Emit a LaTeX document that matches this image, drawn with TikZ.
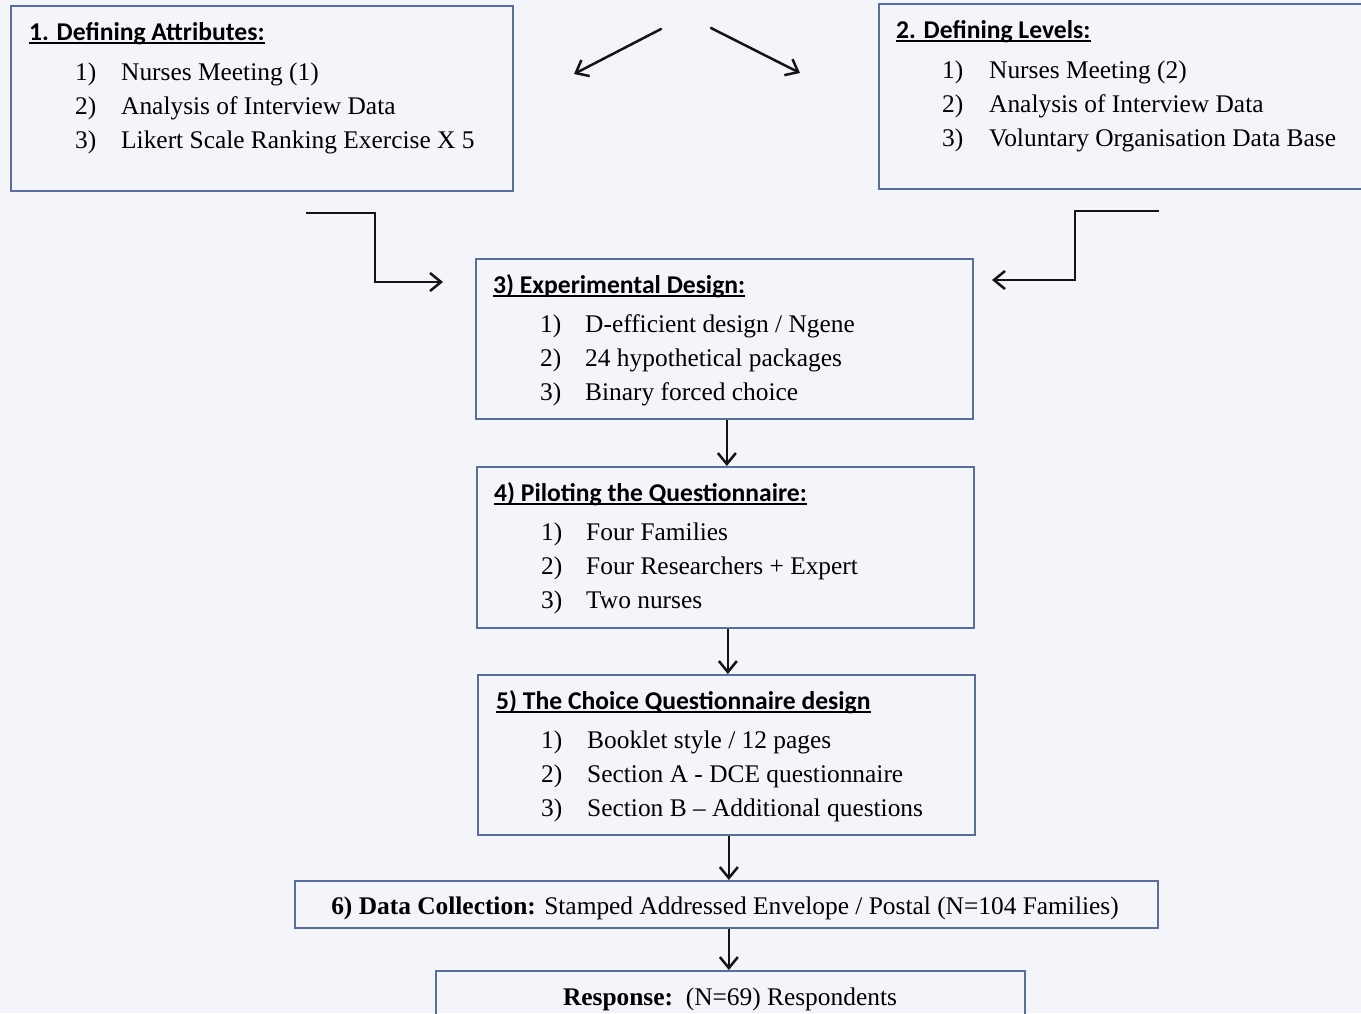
\documentclass[tikz,border=0pt]{standalone}
\usepackage{fontspec}
\setmainfont{Liberation Serif}
\newfontfamily\headfont{Carlito}
\usetikzlibrary{arrows.meta,calc}
\definecolor{bgc}{RGB}{243,245,250}
\definecolor{boxc}{RGB}{92,110,150}
\definecolor{arrc}{RGB}{20,20,20}
\tikzset{
  box/.style={draw=boxc, line width=1.7pt, inner sep=0pt, anchor=north west},
  item/.style={inner sep=0pt, anchor=base west, font=\fontsize{25.4}{30}\selectfont, text=black},
  head/.style={inner sep=0pt, anchor=base west, font=\headfont\bfseries\fontsize{25.6}{30}\selectfont, text=black},
  uline/.style={line width=1.4pt, black},
  arr/.style={draw=arrc, line width=2.5pt, line cap=round, -{Straight Barb[length=11pt,width=18pt,line width=2.5pt]}},
}
\begin{document}
\begin{tikzpicture}[x=1pt,y=-1pt]
\useasboundingbox (0,0) rectangle (1361,1013);
\clip (0,0) rectangle (1361,1013);
\fill[bgc] (0,0) rectangle (1361,1013);

% Box 1
\node[box, minimum width=502pt, minimum height=185pt] (b1) at (10,5) {};
\node[head] (h1) at (29,40) {1. Defining Attributes:};
\draw[uline] ($(h1.base west)+(0,3)$) -- ($(h1.base east)+(0,3)$);
\node[item] (b1a) at (75,80) {1)};
\node[item] (b1at) at (121,80) {Nurses Meeting (1)};
\node[item] (b1b) at (75,114) {2)};
\node[item] (b1bt) at (121,114) {Analysis of Interview Data};
\node[item] (b1c) at (75,148) {3)};
\node[item] (b1ct) at (121,148) {Likert Scale Ranking Exercise X 5};

% Box 2
\node[box, minimum width=500pt, minimum height=185pt] (b2) at (878,3) {};
\node[head] (h2) at (896,38) {2. Defining Levels:};
\draw[uline] ($(h2.base west)+(0,3)$) -- ($(h2.base east)+(0,3)$);
\node[item] (b2a) at (942,78) {1)};
\node[item] (b2at) at (989,78) {Nurses Meeting (2)};
\node[item] (b2b) at (942,112) {2)};
\node[item] (b2bt) at (989,112) {Analysis of Interview Data};
\node[item] (b2c) at (942,146) {3)};
\node[item] (b2ct) at (989,146) {Voluntary Organisation Data Base};

% Box 3
\node[box, minimum width=497pt, minimum height=160pt] (b3) at (475,258) {};
\node[head] (h3) at (493,293) {3) Experimental Design:};
\draw[uline] ($(h3.base west)+(0,3)$) -- ($(h3.base east)+(0,3)$);
\node[item] (b3a) at (540,332) {1)};
\node[item] (b3at) at (585,332) {D-efficient design / Ngene};
\node[item] (b3b) at (540,366) {2)};
\node[item] (b3bt) at (585,366) {24 hypothetical packages};
\node[item] (b3c) at (540,400) {3)};
\node[item] (b3ct) at (585,400) {Binary forced choice};

% Box 4
\node[box, minimum width=497pt, minimum height=161pt] (b4) at (476,466) {};
\node[head] (h4) at (494,501) {4) Piloting the Questionnaire:};
\draw[uline] ($(h4.base west)+(0,3)$) -- ($(h4.base east)+(0,3)$);
\node[item] (b4a) at (541,540) {1)};
\node[item] (b4at) at (586,540) {Four Families};
\node[item] (b4b) at (541,574) {2)};
\node[item] (b4bt) at (586,574) {Four Researchers + Expert};
\node[item] (b4c) at (541,608) {3)};
\node[item] (b4ct) at (586,608) {Two nurses};

% Box 5
\node[box, minimum width=497pt, minimum height=160pt] (b5) at (477,674) {};
\node[head] (h5) at (496,709) {5) The Choice Questionnaire design};
\draw[uline] ($(h5.base west)+(0,3)$) -- ($(h5.base east)+(0,3)$);
\node[item] (b5a) at (541,748) {1)};
\node[item] (b5at) at (587,748) {Booklet style / 12 pages};
\node[item] (b5b) at (541,782) {2)};
\node[item] (b5bt) at (587,782) {Section A - DCE questionnaire};
\node[item] (b5c) at (541,816) {3)};
\node[item] (b5ct) at (587,816) {Section B -- Additional questions};

% Box 6
\node[box, minimum width=863pt, minimum height=47pt] (b6) at (294,880) {};
\node[item, anchor=base] (b6t) at (725,914) {\textbf{6) Data Collection:} Stamped Addressed Envelope / Postal (N=104 Families)};

% Box 7
\node[box, minimum width=589pt, minimum height=80pt] (b7) at (435,970) {};
\node[item, anchor=base] (b7t) at (730,1005) {\textbf{Response:}\ \ (N=69) Respondents};

% Top arrows
\coordinate (tl1) at (661,29);
\coordinate (tl2) at (574,74);
\coordinate (tr1) at (711,28);
\coordinate (tr2) at (800,73);
\draw[arr] (tl1) -- (tl2);
\draw[arr] (tr1) -- (tr2);

% Bent arrows into box 3
\coordinate (ls) at (306,213);
\coordinate (le) at (443,282);
\draw[arr, line cap=butt] (ls) -| (375,282) -- (le);
\coordinate (rs) at (1159,211);
\coordinate (re) at (992,280);
\draw[arr, line cap=butt] (rs) -| (1075,280) -- (re);

% Vertical arrows
\draw[arr, line cap=butt] ($(b3.south)+(2.5,0)$) -- ($(b3.south |- b4.north)+(2.5,0)$);
\draw[arr, line cap=butt] ($(b4.south)+(2.5,0)$) -- ($(b4.south |- b5.north)+(2.5,0)$);
\draw[arr, line cap=butt] ($(b5.south)+(2.5,0)$) -- ($(b5.south |- b6.north)+(2.5,0)$);
\draw[arr, line cap=butt] ($(b6.south)+(2.5,0)$) -- ($(b6.south |- b7.north)+(2.5,0)$);
\end{tikzpicture}
\end{document}
